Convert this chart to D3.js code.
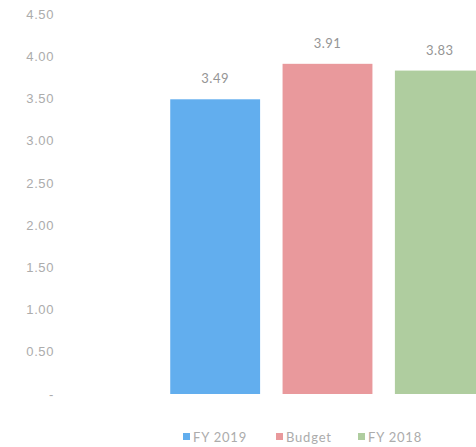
<!DOCTYPE html>
<html>
<head>
<meta charset="utf-8">
<script src="https://cdn.jsdelivr.net/npm/d3@7"></script>
<style>
  html, body { margin: 0; padding: 0; background: #fff; }
  svg { display: block; font-family: Lato, "Open Sans", sans-serif; }
</style>
</head>
<body>
<svg id="chart" width="476" height="447"></svg>
<script>
// Series shown as bars, one bar per series
const seriesNames = ["FY 2019", "Budget", "FY 2018"];
const seriesValues = [3.49, 3.91, 3.83];
const seriesColors = ["#62aeee", "#e9999c", "#afcd9f"];
const tickValues = [0, 0.5, 1, 1.5, 2, 2.5, 3, 3.5, 4, 4.5];
const tickLabels = ["-", "0.50", "1.00", "1.50", "2.00", "2.50", "3.00", "3.50", "4.00", "4.50"];

const svg = d3.select("#chart");

const y = d3.scaleLinear().domain([0, 4.5]).range([394, 14]);
const x = d3.scaleBand().domain(seriesNames).range([159, 496]).paddingInner(0.2).paddingOuter(0.1);

// Value axis: labels only, no line or ticks
const yAxis = d3.axisLeft(y)
  .tickValues(tickValues)
  .tickFormat((d, i) => tickLabels[i])
  .tickSize(0)
  .tickPadding(0);
const gy = svg.append("g").attr("transform", "translate(54,0)").call(yAxis);
gy.select(".domain").remove();
gy.selectAll("text")
  .attr("fill", "#acacac")
  .style("font-size", "13px")
  .style("letter-spacing", "0.6px");

// Bars
svg.append("g").selectAll("rect")
  .data(seriesValues)
  .join("rect")
  .attr("x", (d, i) => x(seriesNames[i]))
  .attr("width", x.bandwidth())
  .attr("y", d => y(d))
  .attr("height", d => y(0) - y(d))
  .attr("fill", (d, i) => seriesColors[i]);

// Value labels above bars
svg.append("g").selectAll("text")
  .data(seriesValues)
  .join("text")
  .attr("x", (d, i) => x(seriesNames[i]) + x.bandwidth() / 2)
  .attr("y", d => y(d) - 16)
  .attr("text-anchor", "middle")
  .attr("fill", "#959595")
  .style("font-size", "13px")
  .style("letter-spacing", "0.5px")
  .text(d => d.toFixed(2));

// Legend
const legendX = [183, 276, 358];
const lg = svg.append("g").selectAll("g")
  .data(seriesNames)
  .join("g")
  .attr("transform", (d, i) => `translate(${legendX[i]},437)`);
lg.append("rect")
  .attr("x", 0).attr("y", -4)
  .attr("width", 7).attr("height", 7)
  .attr("fill", (d, i) => seriesColors[i]);
lg.append("text")
  .attr("x", 10).attr("y", 0)
  .attr("dy", "0.35em")
  .attr("fill", "#acacac")
  .style("font-size", "13px")
  .style("letter-spacing", "0.8px")
  .text(d => d);
</script>
</body>
</html>
